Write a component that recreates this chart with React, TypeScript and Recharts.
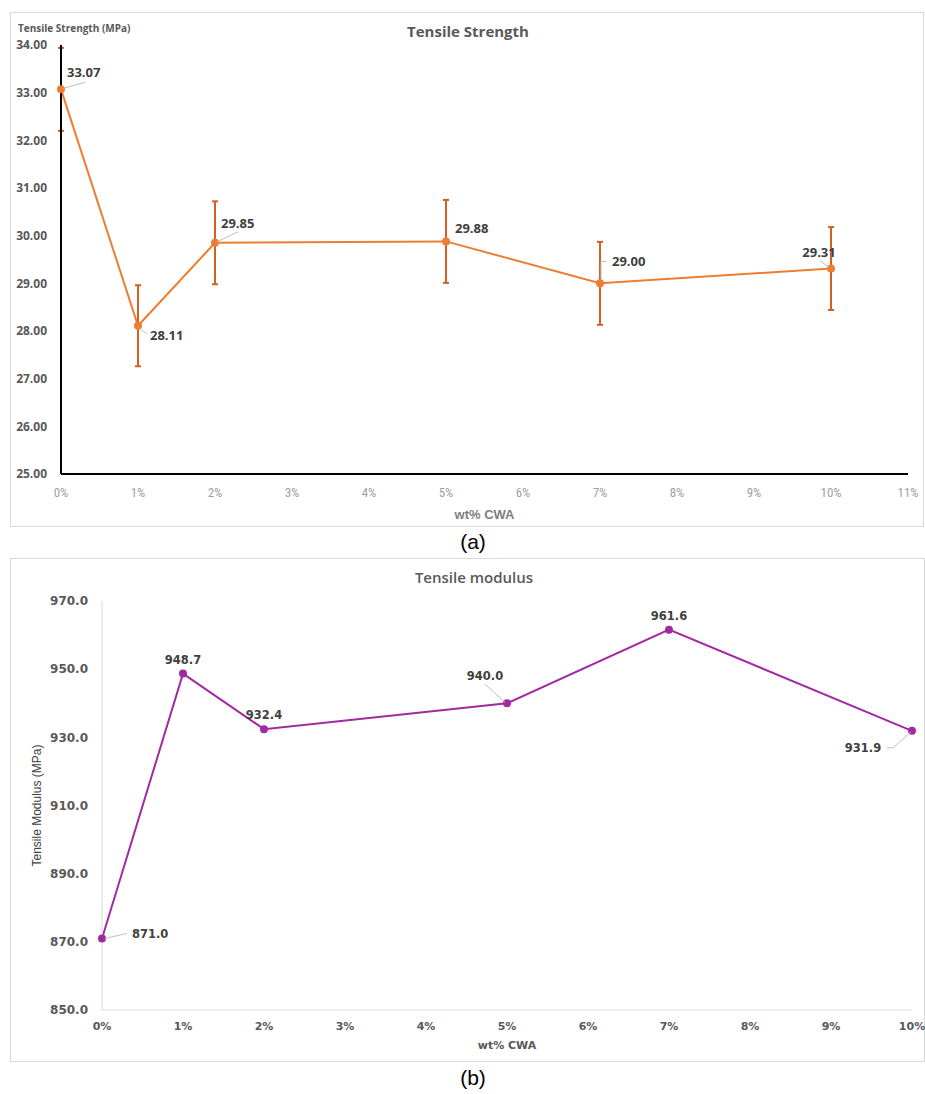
import React from 'react';
import {
  LineChart,
  Line,
  XAxis,
  YAxis,
  ErrorBar,
  LabelList,
  Label,
} from 'recharts';

// wt% CWA loadings
const loadings = [0, 1, 2, 5, 7, 10];

// (a) tensile strength, MPa, with error bars
const strengthValues = [33.07, 28.11, 29.85, 29.88, 29.0, 29.31];
const strengthErrors = [0.87, 0.85, 0.87, 0.87, 0.87, 0.87];
const strengthYTicks = [25, 26, 27, 28, 29, 30, 31, 32, 33, 34];
const strengthXTicks = [0, 1, 2, 3, 4, 5, 6, 7, 8, 9, 10, 11];

// (b) tensile modulus, MPa
const modulusValues = [871.0, 948.7, 932.4, 940.0, 961.6, 931.9];
const modulusYTicks = [850, 870, 890, 910, 930, 950, 970];
const modulusXTicks = [0, 1, 2, 3, 4, 5, 6, 7, 8, 9, 10];

const strengthData = loadings.map((x, i) => ({
  x,
  y: strengthValues[i],
  err: strengthErrors[i],
}));
const modulusData = loadings.map((x, i) => ({ x, y: modulusValues[i] }));

type Placement = {
  dx: number;
  dy: number;
  anchor: 'start' | 'middle' | 'end';
  leader?: number[][];
};

// data label placement (relative to each point)
const strengthLabelPos: Placement[] = [
  { dx: 6, dy: -17, anchor: 'start', leader: [[2, -1], [24, -7]] },
  { dx: 12, dy: 9, anchor: 'start', leader: [[3, 4], [9, 8]] },
  { dx: 6, dy: -20, anchor: 'start', leader: [[2, -1], [23, -11]] },
  { dx: 9, dy: -13, anchor: 'start' },
  { dx: 12, dy: -22, anchor: 'start', leader: [[1, -4], [1, -22], [6, -22]] },
  { dx: -12, dy: -17, anchor: 'middle', leader: [[-11, -8], [-2, -1]] },
];

const modulusLabelPos: Placement[] = [
  { dx: 30, dy: -4, anchor: 'start', leader: [[3, 0], [25, -5]] },
  { dx: 0, dy: -14, anchor: 'middle' },
  { dx: 0, dy: -14, anchor: 'middle' },
  { dx: -22, dy: -27, anchor: 'middle', leader: [[-22, -19], [-2, -1]] },
  { dx: 0, dy: -14, anchor: 'middle' },
  { dx: -49, dy: 17, anchor: 'middle', leader: [[-25, 17], [-19, 17], [-1, 1]] },
];

function makeLabel(
  placements: Placement[],
  values: number[],
  digits: number,
  font: React.CSSProperties
) {
  return (props: any) => {
    const { x, y, value } = props;
    let index = props.index;
    if (index === undefined) index = values.indexOf(Number(value));
    const p = placements[index];
    if (!p || x == null || y == null) return null;
    return (
      <g>
        {p.leader && (
          <polyline
            points={p.leader.map(([a, b]) => `${x + a},${y + b}`).join(' ')}
            fill="none"
            stroke="#bfbfbf"
            strokeWidth={1}
          />
        )}
        <text
          x={x + p.dx}
          y={y + p.dy}
          textAnchor={p.anchor}
          dominantBaseline="central"
          fill="#404040"
          style={font}
        >
          {Number(value).toFixed(digits)}
        </text>
      </g>
    );
  };
}

const boxStyle: React.CSSProperties = {
  position: 'absolute',
  border: '1px solid #d9d9d9',
  boxSizing: 'border-box',
  background: '#fff',
};

export default function App() {
  const aFont = { fontFamily: '"Open Sans", sans-serif', fontWeight: 700, fontSize: 13 };
  const bFont = { fontFamily: '"DejaVu Sans", sans-serif', fontWeight: 700, fontSize: 11.5 };

  return (
    <div
      style={{
        position: 'absolute',
        left: 0,
        top: 0,
        width: 925,
        height: 1094,
        background: '#fff',
        fontFamily: '"Open Sans", sans-serif',
      }}
    >
      {/* (a) Tensile Strength */}
      <div style={{ ...boxStyle, left: 10, top: 12, width: 914, height: 515 }}>
        <div style={{ position: 'absolute', left: -1, top: -1 }}>
          <LineChart
            width={914}
            height={515}
            data={strengthData}
            margin={{ top: 33, right: 16, bottom: 0, left: 0 }}
          >
            <XAxis
              dataKey="x"
              type="number"
              domain={[0, 11]}
              ticks={strengthXTicks}
              tickFormatter={(v: number) => `${v}%`}
              axisLine={{ stroke: '#000', strokeWidth: 2 }}
              tickLine={false}
              tickMargin={8}
              height={53}
              tick={{
                fill: '#a0a0a0',
                fontSize: 13,
                fontFamily: '"Liberation Sans Narrow", "Roboto Condensed", sans-serif',
              }}
            >
              <Label
                value="wt% CWA"
                position="insideBottom"
                offset={8}
                style={{
                  fill: '#7f7f7f',
                  fontSize: 13,
                  fontFamily: '"Liberation Sans Narrow", sans-serif',
                  fontWeight: 700,
                }}
              />
            </XAxis>
            <YAxis
              type="number"
              domain={[25, 34]}
              ticks={strengthYTicks}
              tickFormatter={(v: number) => v.toFixed(2)}
              axisLine={{ stroke: '#000', strokeWidth: 2 }}
              tickLine={false}
              tickMargin={8}
              width={51}
              tick={{ fill: '#595959', fontSize: 12, fontWeight: 700, fontFamily: '"Open Sans", sans-serif' }}
            />
            <Line
              dataKey="y"
              stroke="#ED7D31"
              strokeWidth={2}
              dot={{ r: 3, fill: '#ED7D31', stroke: '#ED7D31' }}
              activeDot={false}
              isAnimationActive={false}
            >
              <ErrorBar
                dataKey="err"
                direction="y"
                width={3}
                stroke="#D2601F"
                strokeWidth={2}
                isAnimationActive={false}
              />
              <LabelList
                dataKey="y"
                content={makeLabel(strengthLabelPos, strengthValues, 2, aFont)}
              />
            </Line>
          </LineChart>
        </div>
        <div
          style={{
            position: 'absolute',
            left: 0,
            top: 8,
            width: 914,
            textAlign: 'center',
            fontSize: 15,
            fontWeight: 700,
            color: '#595959',
          }}
        >
          Tensile Strength
        </div>
        <div
          style={{
            position: 'absolute',
            left: 7,
            top: 8,
            fontSize: 10,
            fontWeight: 700,
            color: '#595959',
          }}
        >
          Tensile Strength (MPa)
        </div>
      </div>

      <div
        style={{
          position: 'absolute',
          left: 0,
          top: 530,
          width: 946,
          textAlign: 'center',
          fontSize: 21,
          color: '#000',
          fontFamily: '"Liberation Sans Narrow", sans-serif',
        }}
      >
        (a)
      </div>

      {/* (b) Tensile modulus */}
      <div style={{ ...boxStyle, left: 10, top: 558, width: 915, height: 504 }}>
        <div style={{ position: 'absolute', left: -1, top: -1 }}>
          <LineChart
            width={915}
            height={504}
            data={modulusData}
            margin={{ top: 43, right: 13, bottom: 0, left: 0 }}
          >
            <XAxis
              dataKey="x"
              type="number"
              domain={[0, 10]}
              ticks={modulusXTicks}
              tickFormatter={(v: number) => `${v}%`}
              axisLine={{ stroke: '#d9d9d9', strokeWidth: 1 }}
              tickLine={false}
              tickMargin={6}
              height={52}
              tick={{ fill: '#595959', fontSize: 11, fontWeight: 700, fontFamily: '"DejaVu Sans", sans-serif' }}
            >
              <Label
                value="wt% CWA"
                position="insideBottom"
                offset={13}
                style={{ fill: '#595959', fontSize: 11, fontWeight: 700, fontFamily: '"DejaVu Sans", sans-serif' }}
              />
            </XAxis>
            <YAxis
              type="number"
              domain={[850, 970]}
              ticks={modulusYTicks}
              tickFormatter={(v: number) => v.toFixed(1)}
              axisLine={{ stroke: '#d9d9d9', strokeWidth: 1 }}
              tickLine={false}
              tickMargin={8}
              width={92}
              tick={{ fill: '#595959', fontSize: 12, fontWeight: 700, fontFamily: '"DejaVu Sans", sans-serif' }}
            >
              <Label
                value="Tensile Modulus (MPa)"
                angle={-90}
                position="insideLeft"
                offset={27}
                style={{
                  textAnchor: 'middle',
                  fill: '#404040',
                  fontSize: 12,
                  fontFamily: '"Liberation Sans Narrow", sans-serif',
                }}
              />
            </YAxis>
            <Line
              dataKey="y"
              stroke="#A2299F"
              strokeWidth={2}
              dot={{ r: 3, fill: '#A2299F', stroke: '#A2299F' }}
              activeDot={false}
              isAnimationActive={false}
            >
              <LabelList
                dataKey="y"
                content={makeLabel(modulusLabelPos, modulusValues, 1, bFont)}
              />
            </Line>
          </LineChart>
        </div>
        <div
          style={{
            position: 'absolute',
            left: 0,
            top: 8,
            width: 926,
            textAlign: 'center',
            fontSize: 15,
            fontWeight: 600,
            color: '#595959',
          }}
        >
          Tensile modulus
        </div>
      </div>

      <div
        style={{
          position: 'absolute',
          left: 0,
          top: 1066,
          width: 946,
          textAlign: 'center',
          fontSize: 21,
          color: '#000',
          fontFamily: '"Liberation Sans Narrow", sans-serif',
        }}
      >
        (b)
      </div>
    </div>
  );
}
